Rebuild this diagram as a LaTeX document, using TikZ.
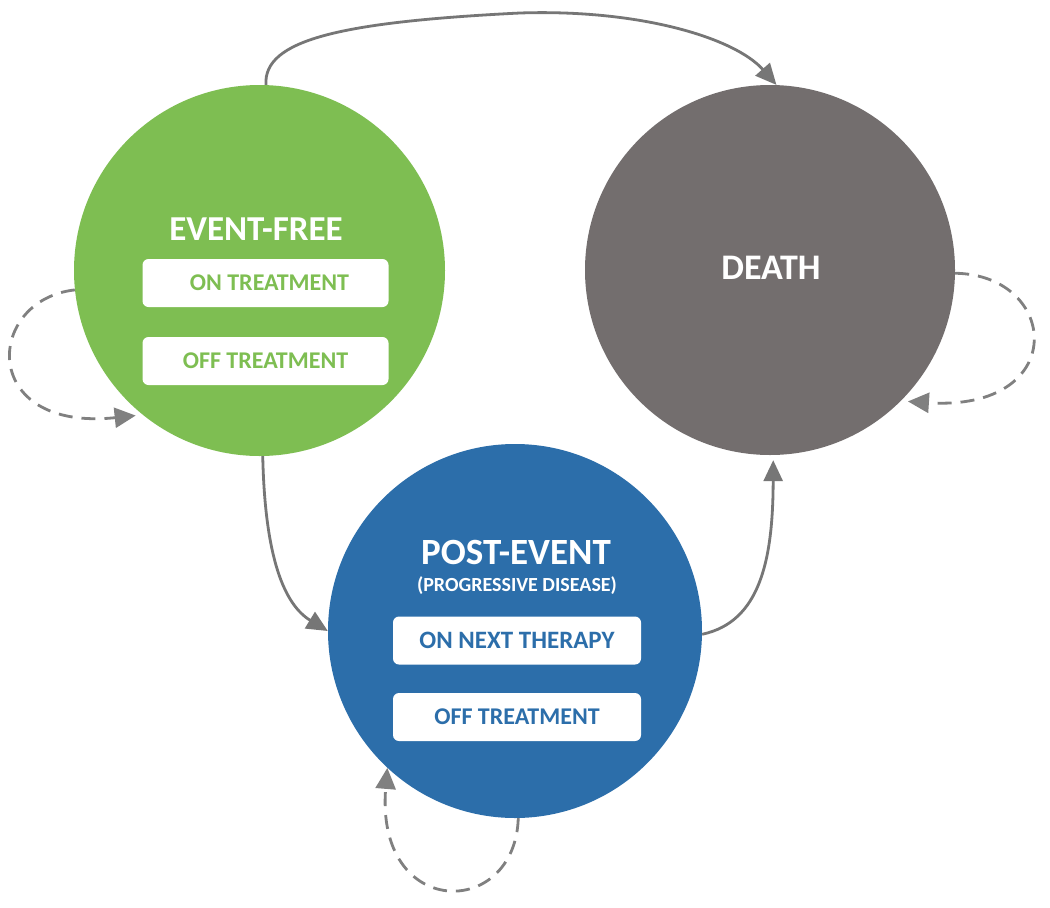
\documentclass[tikz,border=0pt]{standalone}
\usepackage{fontspec}
\setmainfont{Carlito}
\usetikzlibrary{arrows.meta}
\definecolor{efgreen}{RGB}{126,190,82}
\definecolor{dgray}{RGB}{115,110,110}
\definecolor{peblue}{RGB}{44,110,170}
\definecolor{lgray}{RGB}{118,118,118}
\definecolor{dashgray}{RGB}{128,128,128}
\tikzset{
  statecirc/.style={circle,draw=none,inner sep=0pt,minimum size=#1},
  titletext/.style={text=white,font=\bfseries\fontsize{#1}{#1}\selectfont,inner sep=0pt},
  subbox/.style={draw=none,fill=white,rounded corners=6pt,minimum width=246pt,minimum height=48pt,inner sep=0pt,font=\bfseries\fontsize{24}{24}\selectfont},
  trans/.style={draw=lgray,line width=2.8pt,-{Triangle[length=21pt,width=19pt]}},
  selfloop/.style={draw=dashgray,line width=2.8pt,dash pattern=on 14pt off 9pt,-{Triangle[length=21pt,width=20pt]}}
}
\begin{document}
\begin{tikzpicture}[x=1pt,y=-1pt]
\useasboundingbox[fill=white] (0,0) rectangle (1050,908);
% circles
\node[statecirc=371pt,fill=efgreen] (ef) at (259.5,270.5) {};
\node[statecirc=370pt,fill=dgray] (death) at (770,270) {};
\node[statecirc=374pt,fill=peblue] (pe) at (515,631) {};
% titles
\node[titletext=35] (eft) at (256,229) {EVENT-FREE};
\node[titletext=36] (dt) at (771,268) {DEATH};
\node[titletext=37] (pet) at (516,552) {POST-EVENT};
\node[titletext=20] (pes) at (517,586) {(PROGRESSIVE DISEASE)};
% boxes
\node[subbox,text=efgreen] (efon) at (265.5,283) {\hspace*{8pt}ON TREATMENT};
\node[subbox,text=efgreen] (efoff) at (265.5,361) {OFF TREATMENT};
\node[subbox,text=peblue,minimum width=248pt,font=\bfseries\fontsize{25}{25}\selectfont] (peon) at (517,640.5) {ON NEXT THERAPY};
\node[subbox,text=peblue,minimum width=248pt] (peoff) at (517,717) {OFF TREATMENT};
% transitions
\draw[trans] (ef.88) .. controls (263,40) and (340,22) .. (520,13)
  .. controls (640,9) and (735,38) .. (death.88);
\draw[trans] (ef.-89) .. controls (265,560) and (285,605) .. (pe.west);
\draw[trans,shorten >=5pt] (pe.-1) .. controls (760,622) and (773,560) .. (death.-89);
% self loops
\draw[selfloop,shorten >=7pt] (ef.186) .. controls (-15,300) and (-22,432) .. (ef.231);
\draw[selfloop,shorten >=7pt] (death.-1) .. controls (1060,275) and (1070,412) .. (death.-45);
\draw[selfloop] (pe.-89) .. controls (515,920) and (375,920) .. (pe.-133);
\end{tikzpicture}
\end{document}
